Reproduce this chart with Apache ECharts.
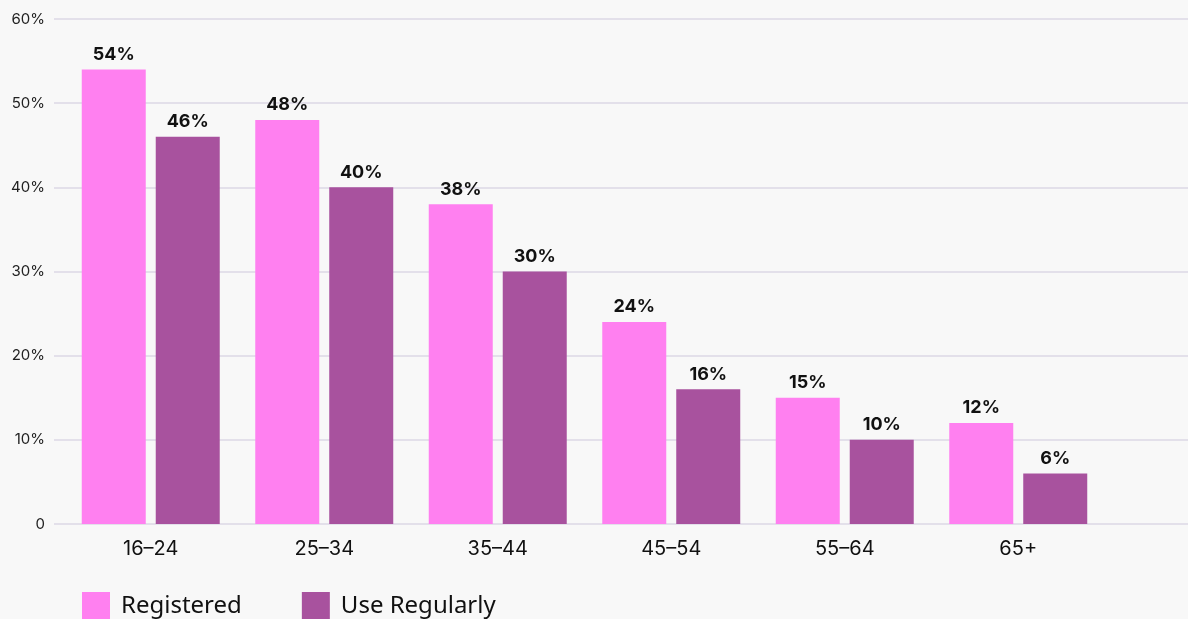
<!DOCTYPE html>
<html>
<head>
<meta charset="utf-8">
<script src="https://cdn.jsdelivr.net/npm/echarts@6/dist/echarts.min.js"></script>
<style>
  html, body { margin: 0; padding: 0; background: #f8f8f8; }
  #chart { width: 1188px; height: 619px; }
</style>
</head>
<body>
<div id="chart"></div>
<script>
const ageGroups = ['16–24', '25–34', '35–44', '45–54', '55–64', '65+'];
const registered = [54, 48, 38, 24, 15, 12];
const useRegularly = [46, 40, 30, 16, 10, 6];
const yTicks = [0, 10, 20, 30, 40, 50, 60];

const font = 'Inter, "Noto Sans", sans-serif';
const chart = echarts.init(document.getElementById('chart'));

const valueLabel = {
  show: true,
  position: 'top',
  distance: 6,
  formatter: p => p.value + '%',
  color: '#111',
  fontFamily: font,
  fontWeight: 'bold',
  fontSize: 18
};

chart.setOption({
  backgroundColor: '#f8f8f8',
  animation: false,
  grid: [
    { left: 54, right: 0, top: 19, bottom: 95 },
    { left: 64, width: 1041, top: 19, bottom: 95 }
  ],
  xAxis: [
    { gridIndex: 0, type: 'category', data: ageGroups, show: false },
    {
      gridIndex: 1, type: 'category', data: ageGroups,
      axisLine: { show: false }, axisTick: { show: false },
      axisLabel: { color: '#111', fontFamily: font, fontSize: 20, margin: 15 }
    }
  ],
  yAxis: [
    {
      gridIndex: 0, type: 'value',
      min: yTicks[0], max: yTicks[yTicks.length - 1], interval: 10,
      axisLine: { show: false }, axisTick: { show: false },
      axisLabel: {
        color: '#222', fontFamily: font, fontSize: 15, margin: 9,
        formatter: v => v === 0 ? '0' : v + '%'
      },
      splitLine: { lineStyle: { color: '#dcd9e6', width: 1.5 } }
    },
    {
      gridIndex: 1, type: 'value',
      min: yTicks[0], max: yTicks[yTicks.length - 1], interval: 10,
      show: false, splitLine: { show: false }
    }
  ],
  legend: {
    left: 82, top: 592, padding: 0,
    itemWidth: 28, itemHeight: 28, itemGap: 60,
    icon: 'rect',
    textStyle: { color: '#111', fontFamily: '"Noto Sans", sans-serif', fontSize: 24, padding: [0, 0, 0, 6] },
    data: ['Registered', 'Use Regularly']
  },
  series: [
    {
      name: 'Registered', type: 'bar', xAxisIndex: 1, yAxisIndex: 1,
      data: registered, barWidth: 64, barGap: '15.6%',
      itemStyle: { color: '#ff80f0' }, label: valueLabel
    },
    {
      name: 'Use Regularly', type: 'bar', xAxisIndex: 1, yAxisIndex: 1,
      data: useRegularly, barWidth: 64, barGap: '15.6%',
      itemStyle: { color: '#a8529e' }, label: valueLabel
    }
  ]
});
</script>
</body>
</html>
